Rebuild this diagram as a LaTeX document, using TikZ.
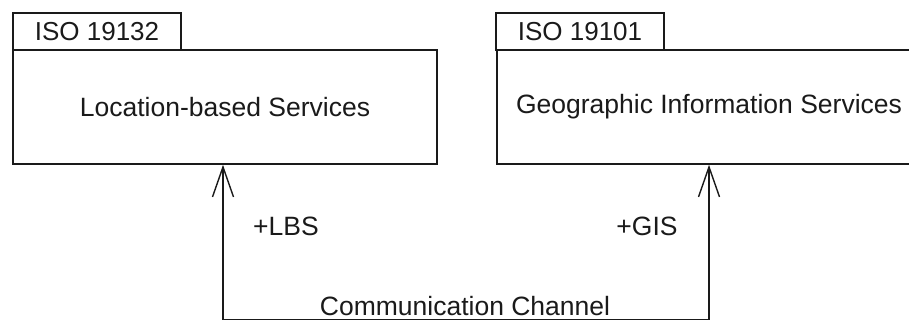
\documentclass[tikz,border=0pt]{standalone}
\usepackage{fontspec}
\setmainfont{Liberation Sans}
\usetikzlibrary{arrows.meta,positioning}
\definecolor{inkgray}{HTML}{1A1A1A}

\begin{document}
\begin{tikzpicture}[
  x=1pt, y=-1pt,
  line width=1.6pt,
  pkgbody/.style={rectangle, draw=inkgray, minimum width=424pt, minimum height=114pt, inner sep=0pt, font=\fontsize{26.5}{31}\selectfont, text=inkgray},
  pkgtab/.style={rectangle, draw=inkgray, minimum width=168pt, minimum height=37pt, inner sep=0pt, font=\fontsize{26}{31}\selectfont, text=inkgray},
  role/.style={font=\fontsize{26.5}{31}\selectfont, text=inkgray, inner sep=0pt},
  assoc/.style={draw=inkgray, line width=1.6pt},
  nav/.style={-{Straight Barb[length=30pt, width=21pt, line width=1.4pt]}, draw=inkgray, line width=1.6pt}
]
  \useasboundingbox (0,0) rectangle (909,320);
  \node[pkgtab] (lbstab) at (97,31.5) {ISO 19132};
  \node[pkgbody] (lbs) at (225,107) {Location-based Services};
  \node[pkgtab] (gistab) at (580,31.5) {ISO 19101};
  \node[pkgbody] (gis) at (709,107) {Geographic Information Services};
  \coordinate (chl) at (223,320);
  \coordinate (chr) at (709,320);
  \draw[assoc] (chl) -- (chr);
  \draw[nav] (chl) -- (chl |- lbs.south);
  \draw[nav] (chr) -- (chr |- gis.south);
  \node[role] (lbsrole) at (286,226) {+LBS};
  \node[role] (gisrole) at (647,226) {+GIS};
  \node[role] (chname) at (465,306) {Communication Channel};
\end{tikzpicture}
\end{document}
